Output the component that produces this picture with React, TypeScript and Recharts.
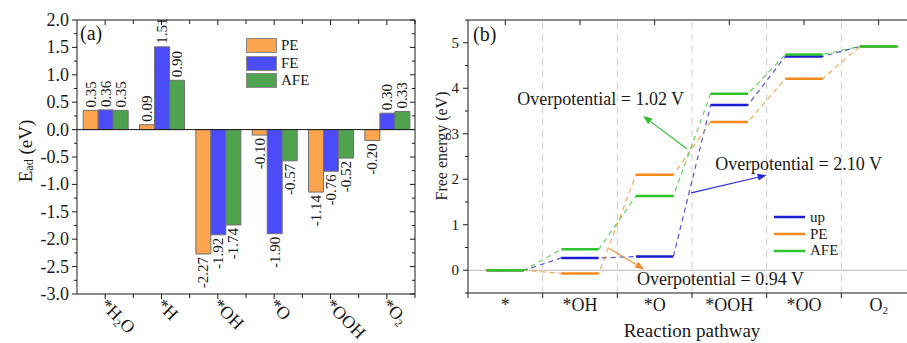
import React from 'react';
import {
  BarChart,
  Bar,
  XAxis,
  YAxis,
  ReferenceLine,
  LabelList,
  Legend,
  LineChart,
  Line,
  ReferenceDot,
} from 'recharts';

const FONT = "'Liberation Serif', 'Times New Roman', Times, serif";
const INK = '#1a1a1a';

// ---------------- Panel (a) data ----------------
const adsorbates = ['*H2O', '*H', '*OH', '*O', '*OOH', '*O2'];
const peAds = [0.35, 0.09, -2.27, -0.1, -1.14, -0.2];
const feAds = [0.36, 1.51, -1.92, -1.9, -0.76, 0.3];
const afeAds = [0.35, 0.9, -1.74, -0.57, -0.52, 0.33];
const adsTicks = [
  -3, -2.75, -2.5, -2.25, -2, -1.75, -1.5, -1.25, -1, -0.75, -0.5, -0.25, 0,
  0.25, 0.5, 0.75, 1, 1.25, 1.5, 1.75, 2,
];
const legendOrderA = ['PE', 'FE', 'AFE'];

// ---------------- Panel (b) data ----------------
const steps = ['*', '*OH', '*O', '*OOH', '*OO', 'O2'];
const upG = [0, 0.27, 0.3, 3.63, 4.7, 4.92];
const peG = [0, -0.07, 2.1, 3.26, 4.21, 4.92];
const afeG = [0, 0.46, 1.63, 3.88, 4.74, 4.92];
const energyTicks = [-0.5, 0, 0.5, 1, 1.5, 2, 2.5, 3, 3.5, 4, 4.5, 5, 5.5];
const pathTicks = [-0.5, 0, 0.5, 1, 1.5, 2, 2.5, 3, 3.5, 4, 4.5, 5, 5.5];
const stepTicks = [0, 1, 2, 3, 4, 5];
const stepDividers = [0.5, 1.5, 2.5, 3.5, 4.5];
const legendOrderB = ['up', 'PE', 'AFE'];
const overpotentialNotes = [
  { text: 'Overpotential = 1.02 V', color: '#2fbf2f', at: { x: 0.16, y: 3.63 }, from: { x: 2.43, y: 2.67 }, to: { x: 1.845, y: 3.39 } },
  { text: 'Overpotential = 2.10 V', color: '#2a2ad6', at: { x: 2.81, y: 2.2 }, from: { x: 2.49, y: 1.7 }, to: { x: 3.5, y: 2.09 } },
  { text: 'Overpotential = 0.94 V', color: '#f08a2a', at: { x: 1.765, y: -0.33 }, from: { x: 1.39, y: 0.48 }, to: { x: 1.86, y: 0.02 } },
];

// colours
const BAR_PE = '#fca54e';
const BAR_FE = '#4b4cf8';
const BAR_AFE = '#4fa34f';
const L_UP = '#1c1cd4';
const L_PE = '#f5891c';
const L_AFE = '#2ec42e';

const barData = adsorbates.map((c, i) => ({ cat: c, PE: peAds[i], FE: feAds[i], AFE: afeAds[i] }));

function levelPoints(vals: number[]) {
  const out: { x: number; y: number | null }[] = [];
  vals.forEach((v, i) => {
    out.push({ x: i - 0.25, y: v }, { x: i + 0.25, y: v });
    if (i < vals.length - 1) out.push({ x: i + 0.5, y: null });
  });
  return out;
}
function pathPoints(vals: number[]) {
  const out: { x: number; y: number }[] = [];
  vals.forEach((v, i) => out.push({ x: i - 0.25, y: v }, { x: i + 0.25, y: v }));
  return out;
}

function chem(label: string, size: number) {
  const parts = label.split(/(\d)/).filter((p) => p !== '');
  let sub = false;
  return parts.map((p, i) => {
    if (/^\d$/.test(p)) {
      sub = true;
      return (
        <tspan key={i} fontSize={size * 0.62} dy={size * 0.18}>
          {p}
        </tspan>
      );
    }
    const dy = sub ? -size * 0.18 : undefined;
    sub = false;
    return (
      <tspan key={i} dy={dy}>
        {p}
      </tspan>
    );
  });
}

const TXT = { fontFamily: FONT };

// ---------------- Panel (a) ticks ----------------
const HALF_A = 338 / 6 / 2;

function BottomTickA(props: any) {
  const { x, y, payload } = props;
  const lx = x - 6;
  const ly = y + 12;
  return (
    <g>
      <line x1={x} y1={y} x2={x} y2={y + 5} stroke={INK} />
      <line x1={x + HALF_A} y1={y} x2={x + HALF_A} y2={y + 4} stroke={INK} />
      <text x={lx} y={ly} transform={`rotate(45 ${lx} ${ly})`} fontSize={18} fontFamily={FONT} style={TXT} fill={INK} textAnchor="start">
        {chem(String(payload.value), 18)}
      </text>
    </g>
  );
}
function TopTickA(props: any) {
  const { x, y } = props;
  return (
    <g>
      <line x1={x} y1={y} x2={x} y2={y + 5} stroke={INK} />
      <line x1={x + HALF_A} y1={y} x2={x + HALF_A} y2={y + 4} stroke={INK} />
    </g>
  );
}
function isMajor(v: number) {
  return Math.abs(v * 2 - Math.round(v * 2)) < 1e-6;
}
function LeftTickA(props: any) {
  const { x, y, payload } = props;
  const v = Number(payload.value);
  const major = isMajor(v);
  return (
    <g>
      <line x1={x - (major ? 5 : 3)} y1={y} x2={x} y2={y} stroke={INK} />
      {major && (
        <text x={x - 8} y={y} textAnchor="end" dominantBaseline="central" fontSize={18} fontFamily={FONT} style={TXT} fill={INK}>
          {v.toFixed(1)}
        </text>
      )}
    </g>
  );
}
function RightTickA(props: any) {
  const { x, y, payload } = props;
  const major = isMajor(Number(payload.value));
  return <line x1={x} y1={y} x2={x - (major ? 5 : 3)} y2={y} stroke={INK} />;
}

function BarValueLabel(props: any) {
  const vb = props.viewBox ?? {};
  const x = Number(vb.x ?? props.x);
  const y = Number(vb.y ?? props.y);
  const w = Number(vb.width ?? props.width);
  const h = Number(vb.height ?? props.height);
  const value = Number(props.value);
  const cx = x + w / 2;
  const top = Math.min(y, y + h);
  const bottom = Math.max(y, y + h);
  const pos = value >= 0;
  const ay = pos ? top - 3 : bottom + 3;
  return (
    <text
      x={cx}
      y={ay}
      transform={`rotate(-90 ${cx} ${ay})`}
      textAnchor={pos ? 'start' : 'end'}
      dominantBaseline="central"
      fontSize={15}
      fontFamily={FONT}
      style={TXT}
      fill={INK}
    >
      {value.toFixed(2)}
    </text>
  );
}

function ordered(payload: any[], order: string[]) {
  const items = (payload ?? []).filter((p: any) => p.type !== 'none');
  return order.map((name) => items.find((it: any) => it.value === name)).filter(Boolean);
}

function LegendA(props: any) {
  const colors: Record<string, string> = { PE: BAR_PE, FE: BAR_FE, AFE: BAR_AFE };
  const items = ordered(props.payload, legendOrderA);
  return (
    <div style={{ fontFamily: FONT, fontSize: 15, color: INK }}>
      {items.map((it: any) => (
        <div key={it.value} style={{ display: 'flex', alignItems: 'center', height: 17.5 }}>
          <div
            style={{
              width: 31,
              height: 15,
              background: colors[it.value] ?? it.color,
              border: '1px solid #8a8a8a',
              boxSizing: 'border-box',
            }}
          />
          <span style={{ marginLeft: 4, lineHeight: '15px' }}>{it.value}</span>
        </div>
      ))}
    </div>
  );
}

function PanelA() {
  return (
    <BarChart
      width={440}
      height={343}
      data={barData}
      margin={{ top: 0, right: 0, bottom: 0, left: 0 }}
      barGap={0}
      barCategoryGap="11%"
    >
      <XAxis
        xAxisId="b"
        dataKey="cat"
        height={49}
        interval={0}
        tickLine={false}
        tickSize={0}
        tickMargin={0}
        tick={(p: any) => <BottomTickA {...p} />}
        axisLine={{ stroke: INK }}
      />
      <XAxis
        xAxisId="t"
        dataKey="cat"
        orientation="top"
        height={20}
        interval={0}
        tickLine={false}
        tickSize={0}
        tickMargin={0}
        tick={(p: any) => <TopTickA {...p} />}
        axisLine={{ stroke: INK }}
      />
      <YAxis
        yAxisId="l"
        width={77}
        type="number"
        domain={[-3, 2]}
        ticks={adsTicks}
        interval={0}
        allowDataOverflow
        tickLine={false}
        tickSize={0}
        tickMargin={0}
        tick={(p: any) => <LeftTickA {...p} />}
        axisLine={{ stroke: INK }}
      />
      <YAxis
        yAxisId="r"
        orientation="right"
        width={25}
        type="number"
        domain={[-3, 2]}
        ticks={adsTicks}
        interval={0}
        allowDataOverflow
        tickLine={false}
        tickSize={0}
        tickMargin={0}
        tick={(p: any) => <RightTickA {...p} />}
        axisLine={{ stroke: INK }}
      />
      <Bar xAxisId="b" yAxisId="l" dataKey="PE" name="PE" fill={BAR_PE} stroke="#707070" strokeWidth={1} isAnimationActive={false}>
        <LabelList dataKey="PE" content={(p: any) => <BarValueLabel {...p} />} />
      </Bar>
      <Bar xAxisId="b" yAxisId="l" dataKey="FE" name="FE" fill={BAR_FE} stroke="#707070" strokeWidth={1} isAnimationActive={false}>
        <LabelList dataKey="FE" content={(p: any) => <BarValueLabel {...p} />} />
      </Bar>
      <Bar xAxisId="b" yAxisId="l" dataKey="AFE" name="AFE" fill={BAR_AFE} stroke="#707070" strokeWidth={1} isAnimationActive={false}>
        <LabelList dataKey="AFE" content={(p: any) => <BarValueLabel {...p} />} />
      </Bar>
      <ReferenceLine xAxisId="b" yAxisId="l" y={0} stroke={INK} strokeWidth={1} />
      <Legend
        layout="vertical"
        align="center"
        verticalAlign="middle"
        wrapperStyle={{ left: 246, top: 37, width: 80, height: 56 }}
        content={(p: any) => <LegendA {...p} />}
      />
    </BarChart>
  );
}

// ---------------- Panel (b) ticks ----------------
function BottomTickB(props: any) {
  const { x, y, payload } = props;
  const v = Number(payload.value);
  if (Number.isInteger(v)) {
    return (
      <text x={x} y={y + 18} textAnchor="middle" fontSize={18} fontFamily={FONT} style={TXT} fill={INK}>
        {chem(steps[v], 18)}
      </text>
    );
  }
  return <line x1={x} y1={y} x2={x} y2={y + 5} stroke={INK} />;
}
function TopTickB(props: any) {
  const { x, y } = props;
  return <line x1={x} y1={y} x2={x} y2={y + 5} stroke={INK} />;
}
function LeftTickB(props: any) {
  const { x, y, payload } = props;
  const v = Number(payload.value);
  const major = Number.isInteger(v);
  return (
    <g>
      <line x1={x - (major ? 5 : 3)} y1={y} x2={x} y2={y} stroke={INK} />
      {major && (
        <text x={x - 9} y={y} textAnchor="end" dominantBaseline="central" fontSize={15} fontFamily={FONT} style={TXT} fill={INK}>
          {String(v)}
        </text>
      )}
    </g>
  );
}

function arrowShape(color: string) {
  return (p: any) => {
    const { x1, y1, x2, y2 } = p;
    const a = Math.atan2(y2 - y1, x2 - x1);
    const L = 9;
    const W = 3.5;
    const bx = x2 - L * Math.cos(a);
    const by = y2 - L * Math.sin(a);
    const nx = -Math.sin(a) * W;
    const ny = Math.cos(a) * W;
    return (
      <g>
        <line x1={x1} y1={y1} x2={bx} y2={by} stroke={color} strokeWidth={1.1} />
        <polygon points={`${x2},${y2} ${bx + nx},${by + ny} ${bx - nx},${by - ny}`} fill={color} />
      </g>
    );
  };
}
function noteShape(text: string) {
  return (p: any) => (
    <text x={p.cx} y={p.cy} fontSize={18} fontFamily={FONT} style={TXT} fill={INK} textAnchor="start">
      {text}
    </text>
  );
}

function LegendB(props: any) {
  const items = ordered(props.payload, legendOrderB);
  return (
    <div style={{ fontFamily: FONT, fontSize: 15, color: INK }}>
      {items.map((it: any) => (
        <div key={it.value} style={{ display: 'flex', alignItems: 'center', height: 16.7 }}>
          <svg width={31} height={4}>
            <line x1={0} y1={2} x2={31} y2={2} stroke={it.color} strokeWidth={2.5} />
          </svg>
          <span style={{ marginLeft: 5, lineHeight: '15px' }}>{it.value}</span>
        </div>
      ))}
    </div>
  );
}

function PanelB() {
  const series = [
    { name: 'up', vals: upG, color: L_UP },
    { name: 'PE', vals: peG, color: L_PE },
    { name: 'AFE', vals: afeG, color: L_AFE },
  ];
  return (
    <LineChart width={500} height={343} margin={{ top: 0, right: 4, bottom: 0, left: 0 }}>
      <XAxis
        xAxisId="b"
        type="number"
        dataKey="x"
        domain={[-0.5, 5.5]}
        ticks={pathTicks}
        interval={0}
        allowDataOverflow
        height={50}
        tickLine={false}
        tickSize={0}
        tickMargin={0}
        tick={(p: any) => <BottomTickB {...p} />}
        axisLine={{ stroke: INK }}
      />
      <XAxis
        xAxisId="t"
        orientation="top"
        type="number"
        dataKey="x"
        domain={[-0.5, 5.5]}
        ticks={stepTicks}
        interval={0}
        allowDataOverflow
        height={20}
        tickLine={false}
        tickSize={0}
        tickMargin={0}
        tick={(p: any) => <TopTickB {...p} />}
        axisLine={{ stroke: INK }}
      />
      <YAxis
        yAxisId="l"
        type="number"
        domain={[-0.5, 5.5]}
        ticks={energyTicks}
        interval={0}
        allowDataOverflow
        width={48}
        tickLine={false}
        tickSize={0}
        tickMargin={0}
        tick={(p: any) => <LeftTickB {...p} />}
        axisLine={{ stroke: INK }}
      />
      <ReferenceLine xAxisId="b" yAxisId="l" y={0} stroke="#b8b8b8" strokeWidth={1} />
      {stepDividers.map((v) => (
        <ReferenceLine key={v} xAxisId="b" yAxisId="l" x={v} stroke="#cfcfcf" strokeWidth={1} strokeDasharray="7 5" />
      ))}
      {series.map((s) => (
        <Line
          key={'d' + s.name}
          xAxisId="b"
          yAxisId="l"
          data={pathPoints(s.vals)}
          dataKey="y"
          type="linear"
          stroke={s.color}
          strokeOpacity={0.75}
          strokeWidth={1.2}
          strokeDasharray="5 4"
          dot={false}
          activeDot={false}
          legendType="none"
          isAnimationActive={false}
        />
      ))}
      {series.map((s) => (
        <Line
          key={'s' + s.name}
          name={s.name}
          xAxisId="b"
          yAxisId="l"
          data={levelPoints(s.vals)}
          dataKey="y"
          type="linear"
          stroke={s.color}
          strokeWidth={2.5}
          connectNulls={false}
          dot={false}
          activeDot={false}
          legendType="line"
          isAnimationActive={false}
        />
      ))}
      {overpotentialNotes.map((n) => (
        <ReferenceLine
          key={'a' + n.text}
          xAxisId="b"
          yAxisId="l"
          segment={[n.from, n.to]}
          ifOverflow="visible"
          shape={arrowShape(n.color)}
        />
      ))}
      {overpotentialNotes.map((n) => (
        <ReferenceDot
          key={'t' + n.text}
          xAxisId="b"
          yAxisId="l"
          x={n.at.x}
          y={n.at.y}
          r={2}
          ifOverflow="visible"
          shape={noteShape(n.text)}
        />
      ))}
      <Legend
        layout="vertical"
        align="center"
        verticalAlign="middle"
        wrapperStyle={{ left: 354, top: 209, width: 80, height: 52 }}
        content={(p: any) => <LegendB {...p} />}
      />
    </LineChart>
  );
}

export default function App() {
  return (
    <div
      className="fig-root"
      style={{
        position: 'absolute',
        left: 0,
        top: 0,
        width: 907,
        height: 343,
        overflow: 'hidden',
        background: '#fff',
        fontFamily: FONT,
      }}
    >
      <style>{`.fig-root text, .fig-root tspan { font-family: 'Liberation Serif', 'Times New Roman', Times, serif !important; }`}</style>
      <div style={{ position: 'absolute', left: 0, top: 0 }}>
        <PanelA />
      </div>
      <div style={{ position: 'absolute', left: 420, top: 0 }}>
        <PanelB />
      </div>
      <svg
        width={907}
        height={343}
        style={{ position: 'absolute', left: 0, top: 0, pointerEvents: 'none' }}
      >
        <g fontFamily={FONT} fill={INK}>
          <text x={80} y={40} fontSize={20}>(a)</text>
          <text x={473} y={41} fontSize={20}>(b)</text>
          <text x={25} y={151} fontSize={19} textAnchor="middle" dominantBaseline="central" transform="rotate(-90 25 151)">
            <tspan>E</tspan>
            <tspan fontSize={12} dy={4}>ad</tspan>
            <tspan dy={-4}> (eV)</tspan>
          </text>
          <text x={441} y={146} fontSize={16} textAnchor="middle" dominantBaseline="central" transform="rotate(-90 441 146)">
            Free energy (eV)
          </text>
          <text x={692} y={337} fontSize={19} textAnchor="middle">
            Reaction pathway
          </text>
        </g>
      </svg>
    </div>
  );
}
